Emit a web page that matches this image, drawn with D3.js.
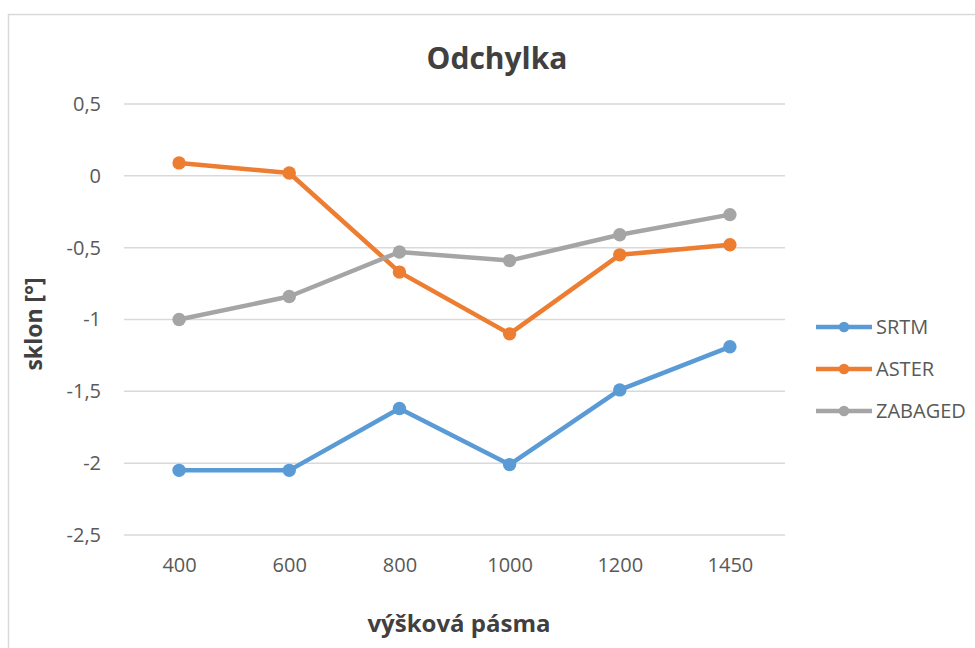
<!DOCTYPE html>
<html>
<head>
<meta charset="utf-8">
<script src="https://cdn.jsdelivr.net/npm/d3@7"></script>
<style>
  html, body { margin: 0; padding: 0; background: #fff; }
  svg { display: block; font-family: "Open Sans", sans-serif; }
</style>
</head>
<body>
<div id="chart"></div>
<script>
// data
const categories = ['400', '600', '800', '1000', '1200', '1450'];
const srtm = [-2.05, -2.05, -1.62, -2.01, -1.49, -1.19];
const aster = [0.09, 0.02, -0.67, -1.10, -0.55, -0.48];
const zabaged = [-1.00, -0.84, -0.53, -0.59, -0.41, -0.27];
const seriesNames = ['SRTM', 'ASTER', 'ZABAGED'];
const yTicks = [0.5, 0, -0.5, -1, -1.5, -2, -2.5];

const width = 975;
const height = 648;
const colors = ['#5b9bd5', '#ed7d31', '#a5a5a5'];

const series = [srtm, aster, zabaged].map((values, i) => ({
  name: seriesNames[i],
  color: colors[i],
  values: values.map((v, j) => ({ cat: categories[j], value: v }))
}));

const svg = d3.select('#chart').append('svg')
  .attr('width', width)
  .attr('height', height);

// chart frame (runs off the right / bottom edge like the screenshot)
svg.append('rect')
  .attr('x', 8.5)
  .attr('y', 14.5)
  .attr('width', 1200)
  .attr('height', 1000)
  .attr('fill', '#fff')
  .attr('stroke', '#d9d9d9')
  .attr('stroke-width', 1.5);

const x = d3.scalePoint()
  .domain(categories)
  .range([124, 785])
  .padding(0.5);

const y = d3.scaleLinear()
  .domain([-2.5, 0.5])
  .range([535, 104]);

const fmt = d => String(d).replace('.', ',');

// gridlines
svg.append('g')
  .selectAll('line')
  .data(yTicks)
  .enter()
  .append('line')
  .attr('x1', 124)
  .attr('x2', 785)
  .attr('y1', d => y(d))
  .attr('y2', d => y(d))
  .attr('stroke', '#d9d9d9')
  .attr('stroke-width', 1.5);

// y axis labels
const yAxis = svg.append('g')
  .attr('transform', 'translate(124,0)')
  .call(d3.axisLeft(y).tickValues(yTicks).tickSize(0).tickPadding(23).tickFormat(fmt));
yAxis.select('.domain').remove();
yAxis.selectAll('text')
  .attr('fill', '#595959')
  .style('font-size', '20px')
  .style('font-family', '"Open Sans", sans-serif');

// x axis labels
const xAxis = svg.append('g')
  .attr('transform', 'translate(0,535)')
  .call(d3.axisBottom(x).tickSize(0).tickPadding(23));
xAxis.select('.domain').remove();
xAxis.selectAll('text')
  .attr('fill', '#595959')
  .style('font-size', '20px')
  .style('font-family', '"Open Sans", sans-serif');

// lines + markers
const line = d3.line()
  .x(d => x(d.cat))
  .y(d => y(d.value));

const groups = svg.selectAll('.series')
  .data(series)
  .enter()
  .append('g')
  .attr('class', 'series');

groups.append('path')
  .attr('d', d => line(d.values))
  .attr('fill', 'none')
  .attr('stroke', d => d.color)
  .attr('stroke-width', 4.5)
  .attr('stroke-linejoin', 'round')
  .attr('stroke-linecap', 'round');

groups.selectAll('circle')
  .data(d => d.values.map(v => ({ ...v, color: d.color })))
  .enter()
  .append('circle')
  .attr('cx', d => x(d.cat))
  .attr('cy', d => y(d.value))
  .attr('r', 6.7)
  .attr('fill', d => d.color);

// title
svg.append('text')
  .attr('x', 497)
  .attr('y', 69)
  .attr('text-anchor', 'middle')
  .attr('fill', '#404040')
  .style('font-size', '30px')
  .style('font-weight', 'bold')
  .text('Odchylka');

// axis titles
svg.append('text')
  .attr('x', 459)
  .attr('y', 632)
  .attr('text-anchor', 'middle')
  .attr('fill', '#404040')
  .style('font-size', '24px')
  .style('font-weight', 'bold')
  .text('výšková pásma');

svg.append('text')
  .attr('transform', 'translate(42,324) rotate(-90)')
  .attr('text-anchor', 'middle')
  .attr('fill', '#404040')
  .style('font-size', '23px')
  .style('font-weight', 'bold')
  .text('sklon [°]');

// legend
const legend = svg.selectAll('.legend')
  .data(series)
  .enter()
  .append('g')
  .attr('class', 'legend')
  .attr('transform', (d, i) => `translate(816,${327 + i * 42})`);

legend.append('line')
  .attr('x1', 0)
  .attr('x2', 56)
  .attr('stroke', d => d.color)
  .attr('stroke-width', 4.5);

legend.append('circle')
  .attr('cx', 28)
  .attr('r', 5.3)
  .attr('fill', d => d.color);

legend.append('text')
  .attr('x', 60)
  .attr('dy', '0.36em')
  .attr('fill', '#595959')
  .style('font-size', '20px')
  .text(d => d.name);
</script>
</body>
</html>
